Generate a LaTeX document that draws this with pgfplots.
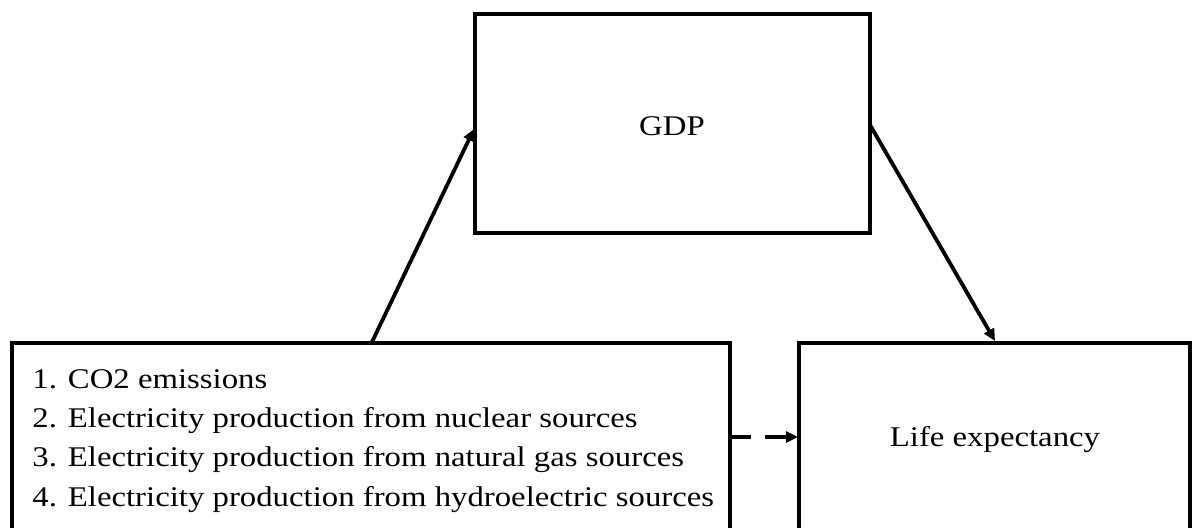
\documentclass[border=0pt]{standalone}
\usepackage{fontspec}
\setmainfont{Liberation Serif}
\usepackage{graphicx}
\usepackage{pgfplots}
\pgfplotsset{compat=1.18}
\usetikzlibrary{arrows.meta}
\newcommand{\lbl}[1]{\scalebox{1.15}[1]{\fontsize{14.25}{19.5}\selectfont #1}}
\begin{document}
\begin{tikzpicture}
\begin{axis}[
  scale only axis, width=596pt, height=264pt,
  xmin=0, xmax=1192, ymin=0, ymax=528,
  hide axis, clip=true,
]
% GDP box
\addplot[black, line width=2pt, no marks, line join=miter] coordinates {(672,514) (870,514) (870,295) (475,295) (475,514) (672,514)};
% left box
\addplot[black, line width=2pt, no marks, line join=miter] coordinates {(12,-20) (12,185) (730,185) (730,-20)};
% right box
\addplot[black, line width=2pt, no marks, line join=miter] coordinates {(799,-20) (799,185) (1190,185) (1190,-20)};
% arrows
\addplot[black, line width=1.9pt, no marks, -{Triangle[length=6pt,width=5.5pt]}] coordinates {(372,186) (474,399)};
\addplot[black, line width=1.9pt, no marks, -{Triangle[length=6pt,width=5.5pt]}] coordinates {(870,403) (995,187)};
% dashed arrow
\addplot[black, line width=2pt, no marks] coordinates {(731,91) (751,91)};
\addplot[black, line width=2pt, no marks, -{Triangle[length=6pt,width=5.5pt]}] coordinates {(765,91) (798,91)};
% labels
\node at (axis cs:672,402) {\lbl{GDP}};
\node at (axis cs:995,88) {\lbl{Life expectancy}};
\node[anchor=base west, inner sep=0pt] at (axis cs:32,139) {\lbl{1. CO2 emissions}};
\node[anchor=base west, inner sep=0pt] at (axis cs:32,100) {\lbl{2. Electricity production from nuclear sources}};
\node[anchor=base west, inner sep=0pt] at (axis cs:32,61) {\lbl{3. Electricity production from natural gas sources}};
\node[anchor=base west, inner sep=0pt] at (axis cs:32,21) {\lbl{4. Electricity production from hydroelectric sources}};
\end{axis}
\path (current axis.south west) rectangle (current axis.north east);
\end{tikzpicture}
\end{document}
